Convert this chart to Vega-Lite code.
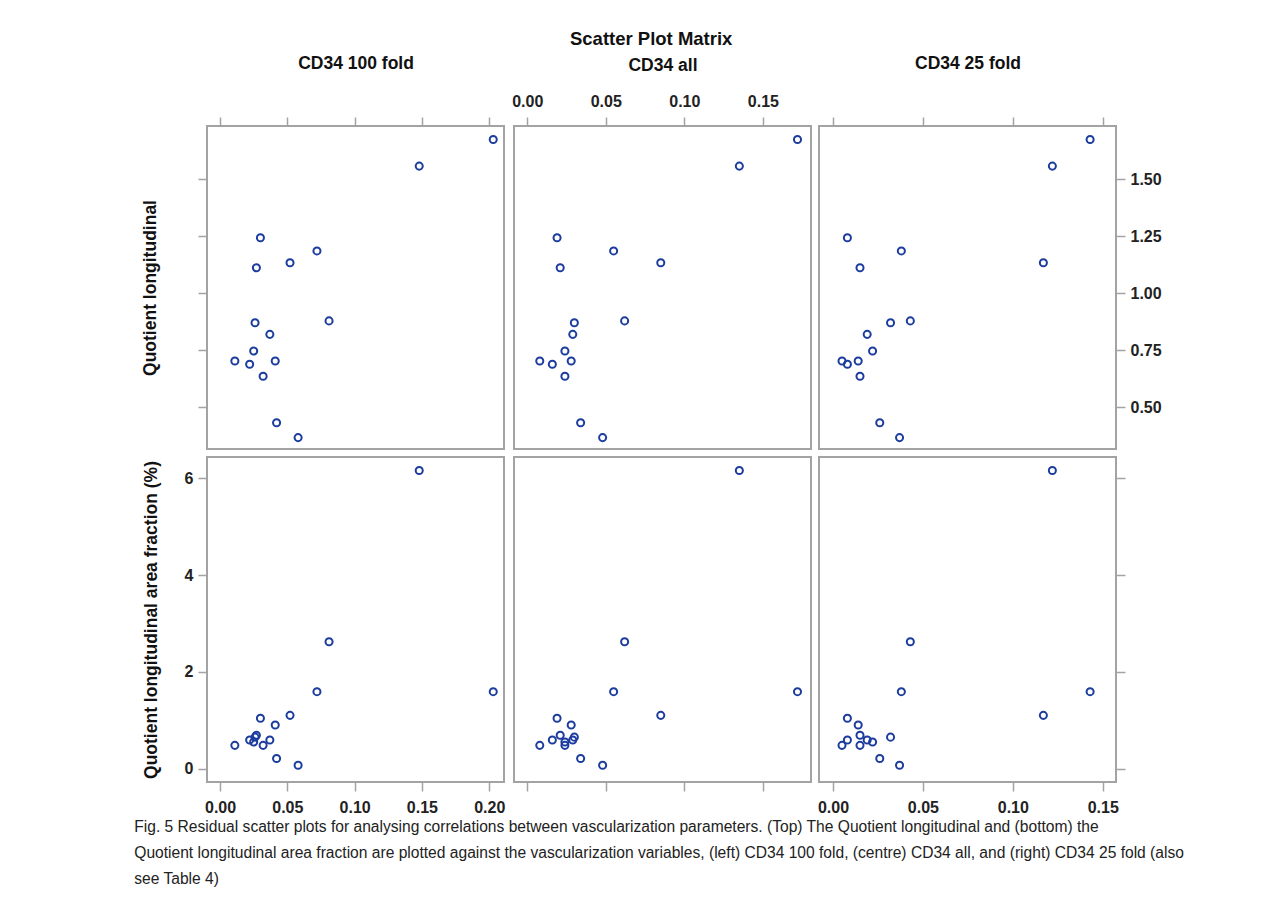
{
  "$schema": "https://vega.github.io/schema/vega-lite/v6.json",
  "padding": {"left": 134, "top": 29, "right": 5, "bottom": 5},
  "background": "white",
  "data": {"values": [
    {"a100": 0.203, "all": 0.172, "a25": 0.143, "ql": 1.675, "qlaf": 1.59},
    {"a100": 0.148, "all": 0.135, "a25": 0.122, "ql": 1.558, "qlaf": 6.16},
    {"a100": 0.030, "all": 0.019, "a25": 0.008, "ql": 1.244, "qlaf": 1.04},
    {"a100": 0.072, "all": 0.055, "a25": 0.038, "ql": 1.186, "qlaf": 1.59},
    {"a100": 0.052, "all": 0.085, "a25": 0.117, "ql": 1.134, "qlaf": 1.10},
    {"a100": 0.027, "all": 0.021, "a25": 0.015, "ql": 1.112, "qlaf": 0.69},
    {"a100": 0.026, "all": 0.030, "a25": 0.032, "ql": 0.871, "qlaf": 0.65},
    {"a100": 0.081, "all": 0.062, "a25": 0.043, "ql": 0.879, "qlaf": 2.62},
    {"a100": 0.037, "all": 0.029, "a25": 0.019, "ql": 0.820, "qlaf": 0.59},
    {"a100": 0.025, "all": 0.024, "a25": 0.022, "ql": 0.747, "qlaf": 0.55},
    {"a100": 0.011, "all": 0.008, "a25": 0.005, "ql": 0.703, "qlaf": 0.48},
    {"a100": 0.022, "all": 0.016, "a25": 0.008, "ql": 0.689, "qlaf": 0.59},
    {"a100": 0.041, "all": 0.028, "a25": 0.014, "ql": 0.703, "qlaf": 0.90},
    {"a100": 0.032, "all": 0.024, "a25": 0.015, "ql": 0.636, "qlaf": 0.48},
    {"a100": 0.042, "all": 0.034, "a25": 0.026, "ql": 0.432, "qlaf": 0.21},
    {"a100": 0.058, "all": 0.048, "a25": 0.037, "ql": 0.367, "qlaf": 0.07}
  ]},
  "title": {
    "text": [
      "Fig. 5  Residual scatter plots for analysing correlations between vascularization parameters. (Top) The Quotient longitudinal and (bottom) the",
      "Quotient longitudinal area fraction are plotted against the vascularization variables, (left) CD34 100 fold, (centre) CD34 all, and (right) CD34 25 fold (also",
      "see Table 4)"
    ],
    "orient": "bottom",
    "anchor": "start",
    "font": "Liberation Sans",
    "fontSize": 15.6,
    "fontWeight": "normal",
    "color": "#222",
    "lineHeight": 26,
    "offset": 4,
    "dx": -6
  },
  "vconcat": [
    {
      "title": {"text": "Scatter Plot Matrix", "anchor": "middle", "font": "Liberation Sans", "fontSize": 18.5, "fontWeight": "bold", "color": "#111", "offset": 5},
      "columns": 3,
      "spacing": {"row": 6, "column": 4},
      "concat": [
        {
          "width": 297, "height": 323,
          "mark": {"type": "point", "shape": "circle", "filled": false, "color": "#1c3c9e", "opacity": 1, "size": 50, "strokeWidth": 2},
          "encoding": {
            "x": {"field": "a100", "type": "quantitative", "scale": {"domain": [-0.0097, 0.211], "nice": false, "zero": false},
                  "axis": {"orient": "top", "labels": false, "values": [0, 0.05, 0.1, 0.15, 0.2], "title": "CD34 100 fold", "titlePadding": 44}},
            "y": {"field": "ql", "type": "quantitative", "scale": {"domain": [0.317, 1.734], "nice": false, "zero": false},
                  "axis": {"orient": "left", "labels": false, "values": [0.5, 0.75, 1, 1.25, 1.5], "title": "Quotient longitudinal", "titlePadding": 38}}
          }
        },
        {
          "width": 297, "height": 323,
          "mark": {"type": "point", "shape": "circle", "filled": false, "color": "#1c3c9e", "opacity": 1, "size": 50, "strokeWidth": 2},
          "encoding": {
            "x": {"field": "all", "type": "quantitative", "scale": {"domain": [-0.0084, 0.1806], "nice": false, "zero": false},
                  "axis": {"orient": "top", "labels": true, "format": ".2f", "values": [0, 0.05, 0.1, 0.15], "title": "CD34 all", "titlePadding": 19}},
            "y": {"field": "ql", "type": "quantitative", "scale": {"domain": [0.317, 1.734], "nice": false, "zero": false}, "axis": null}
          }
        },
        {
          "width": 297, "height": 323,
          "mark": {"type": "point", "shape": "circle", "filled": false, "color": "#1c3c9e", "opacity": 1, "size": 50, "strokeWidth": 2},
          "encoding": {
            "x": {"field": "a25", "type": "quantitative", "scale": {"domain": [-0.0078, 0.1574], "nice": false, "zero": false},
                  "axis": {"orient": "top", "labels": false, "values": [0, 0.05, 0.1, 0.15], "title": "CD34 25 fold", "titlePadding": 44}},
            "y": {"field": "ql", "type": "quantitative", "scale": {"domain": [0.317, 1.734], "nice": false, "zero": false},
                  "axis": {"orient": "right", "labels": true, "format": ".2f", "values": [0.5, 0.75, 1, 1.25, 1.5], "title": null}}
          }
        },
        {
          "width": 297, "height": 325,
          "mark": {"type": "point", "shape": "circle", "filled": false, "color": "#1c3c9e", "opacity": 1, "size": 50, "strokeWidth": 2},
          "encoding": {
            "x": {"field": "a100", "type": "quantitative", "scale": {"domain": [-0.0097, 0.211], "nice": false, "zero": false},
                  "axis": {"orient": "bottom", "labels": true, "format": ".2f", "values": [0, 0.05, 0.1, 0.15, 0.2], "title": null}},
            "y": {"field": "qlaf", "type": "quantitative", "scale": {"domain": [-0.277, 6.44], "nice": false, "zero": false},
                  "axis": {"orient": "left", "labels": true, "format": "d", "values": [0, 2, 4, 6], "title": "Quotient longitudinal area fraction (%)", "titlePadding": 24}}
          }
        },
        {
          "width": 297, "height": 325,
          "mark": {"type": "point", "shape": "circle", "filled": false, "color": "#1c3c9e", "opacity": 1, "size": 50, "strokeWidth": 2},
          "encoding": {
            "x": {"field": "all", "type": "quantitative", "scale": {"domain": [-0.0084, 0.1806], "nice": false, "zero": false},
                  "axis": {"orient": "bottom", "labels": false, "values": [0, 0.05, 0.1, 0.15], "title": null}},
            "y": {"field": "qlaf", "type": "quantitative", "scale": {"domain": [-0.277, 6.44], "nice": false, "zero": false}, "axis": null}
          }
        },
        {
          "width": 297, "height": 325,
          "mark": {"type": "point", "shape": "circle", "filled": false, "color": "#1c3c9e", "opacity": 1, "size": 50, "strokeWidth": 2},
          "encoding": {
            "x": {"field": "a25", "type": "quantitative", "scale": {"domain": [-0.0078, 0.1574], "nice": false, "zero": false},
                  "axis": {"orient": "bottom", "labels": true, "format": ".2f", "values": [0, 0.05, 0.1, 0.15], "title": null}},
            "y": {"field": "qlaf", "type": "quantitative", "scale": {"domain": [-0.277, 6.44], "nice": false, "zero": false},
                  "axis": {"orient": "right", "labels": false, "values": [0, 2, 4, 6], "title": null}}
          }
        }
      ]
    }
  ],
  "config": {
    "view": {"stroke": "#a3a3a3", "strokeWidth": 2},
    "axisX": {"labelPadding": 8},
    "axisY": {"labelPadding": 5},
    "axis": {
      "domain": false,
      "grid": false,
      "tickColor": "#a3a3a3",
      "tickSize": 9,
      "tickWidth": 1.5,
      "labelFont": "Liberation Sans",
      "labelFontSize": 16,
      "labelFontWeight": "bold",
      "labelColor": "#222",
      "titleFont": "Liberation Sans",
      "titleFontSize": 17.5,
      "titleFontWeight": "bold",
      "titleColor": "#111"
    }
  }
}
